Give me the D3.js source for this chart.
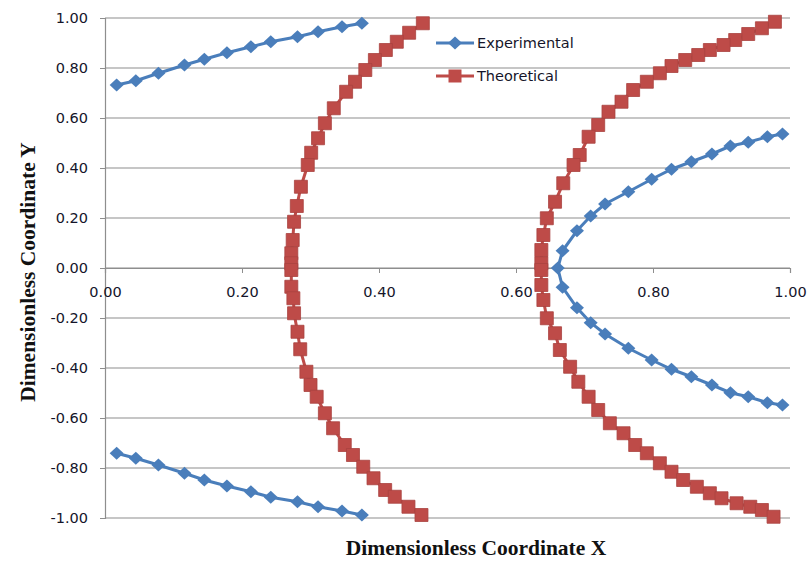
<!DOCTYPE html>
<html>
<head>
<meta charset="utf-8">
<script src="https://cdn.jsdelivr.net/npm/d3@7"></script>
<style>
  body { margin: 0; background: #fff; }
  .tick text { font-family: "DejaVu Sans", sans-serif; font-size: 14.5px; fill: #15152a; }
  .axis-title { font-family: "Liberation Serif", serif; font-weight: bold; font-size: 21.5px; fill: #111; }
  .legend text { font-family: "DejaVu Sans", sans-serif; font-size: 14.5px; fill: #15152a; }
</style>
</head>
<body>
<div id="chart"></div>
<script>
// Experimental data (three separate branches)
const expUpperX = [0.017, 0.045, 0.078, 0.116, 0.145, 0.178, 0.213, 0.242, 0.281, 0.311, 0.346, 0.375];
const expUpperY = [0.732, 0.749, 0.779, 0.812, 0.835, 0.861, 0.885, 0.905, 0.925, 0.945, 0.965, 0.979];
const expLowerX = [0.017, 0.045, 0.078, 0.116, 0.145, 0.178, 0.213, 0.242, 0.281, 0.311, 0.346, 0.375];
const expLowerY = [-0.741, -0.761, -0.788, -0.821, -0.848, -0.872, -0.895, -0.917, -0.935, -0.955, -0.972, -0.988];
const expRightX = [0.989, 0.967, 0.939, 0.913, 0.886, 0.856, 0.827, 0.798, 0.764, 0.730, 0.709, 0.689, 0.668,
  0.661, 0.668, 0.689, 0.709, 0.730, 0.764, 0.798, 0.827, 0.856, 0.886, 0.913, 0.939, 0.967, 0.989];
const expRightY = [-0.548, -0.539, -0.515, -0.499, -0.468, -0.435, -0.405, -0.368, -0.321, -0.264, -0.219, -0.159, -0.077,
  0.000, 0.069, 0.149, 0.208, 0.256, 0.305, 0.355, 0.395, 0.425, 0.456, 0.488, 0.503, 0.525, 0.536];

// Theoretical data (two branches)
const thLeftX = [0.464, 0.444, 0.426, 0.410, 0.394, 0.380, 0.365, 0.352, 0.334, 0.321, 0.311, 0.301, 0.296, 0.286,
  0.280, 0.276, 0.274, 0.272, 0.272, 0.272, 0.272, 0.275, 0.276, 0.281, 0.285, 0.294, 0.300, 0.309, 0.321,
  0.333, 0.350, 0.362, 0.377, 0.392, 0.409, 0.423, 0.443, 0.462];
const thLeftY = [0.979, 0.941, 0.905, 0.872, 0.832, 0.792, 0.745, 0.705, 0.639, 0.579, 0.519, 0.461, 0.412, 0.325,
  0.248, 0.185, 0.112, 0.059, 0.019, -0.008, -0.075, -0.121, -0.181, -0.255, -0.325, -0.415, -0.468, -0.515, -0.581,
  -0.641, -0.708, -0.748, -0.795, -0.841, -0.888, -0.915, -0.955, -0.988];
const thRightX = [0.978, 0.959, 0.939, 0.920, 0.903, 0.883, 0.866, 0.847, 0.827, 0.810, 0.791, 0.771, 0.754, 0.735,
  0.720, 0.706, 0.693, 0.684, 0.669, 0.657, 0.645, 0.640, 0.637, 0.637,
  0.637, 0.637, 0.640, 0.645, 0.657, 0.664, 0.679, 0.691, 0.706, 0.720, 0.737, 0.757, 0.774, 0.791, 0.810, 0.827,
  0.844, 0.864, 0.883, 0.900, 0.922, 0.942, 0.959, 0.976];
const thRightY = [0.985, 0.959, 0.936, 0.912, 0.892, 0.872, 0.852, 0.832, 0.808, 0.779, 0.745, 0.712, 0.665, 0.625,
  0.572, 0.525, 0.452, 0.412, 0.339, 0.265, 0.199, 0.132, 0.072, 0.019,
  -0.008, -0.068, -0.128, -0.201, -0.261, -0.328, -0.395, -0.455, -0.515, -0.568, -0.621, -0.661, -0.708, -0.741, -0.781, -0.815,
  -0.848, -0.875, -0.901, -0.921, -0.941, -0.955, -0.968, -0.995];

const seriesNames = ['Experimental', 'Theoretical'];
const yTicks = [-1, -0.8, -0.6, -0.4, -0.2, 0, 0.2, 0.4, 0.6, 0.8, 1];
const xTicks = [0, 0.2, 0.4, 0.6, 0.8, 1];

const zip = (xs, ys) => xs.map((x, i) => ({ x: x, y: ys[i] }));

const expSegments = [zip(expUpperX, expUpperY), zip(expLowerX, expLowerY), zip(expRightX, expRightY)];
const thSegments = [zip(thLeftX, thLeftY), zip(thRightX, thRightY)];

const width = 807;
const height = 561;
const blue = '#4a7ebb';
const red = '#be4b48';
const gridColor = '#8e8e8e';

const svg = d3.select('#chart').append('svg')
  .attr('width', width)
  .attr('height', height);

const xScale = d3.scaleLinear().domain([0, 1]).range([105, 790]);
const yScale = d3.scaleLinear().domain([-1, 1]).range([518, 18]);

// horizontal gridlines
svg.append('g')
  .selectAll('line')
  .data(yTicks)
  .enter()
  .append('line')
  .attr('x1', xScale(0))
  .attr('x2', xScale(1))
  .attr('y1', d => yScale(d))
  .attr('y2', d => yScale(d))
  .attr('stroke', gridColor)
  .attr('stroke-width', 1.2);

// y axis on the left
const yAxis = d3.axisLeft(yScale)
  .tickValues(yTicks)
  .tickFormat(d3.format('.2f'))
  .tickSize(5)
  .tickPadding(12);

const yAxisGroup = svg.append('g')
  .attr('transform', `translate(${xScale(0)},0)`)
  .call(yAxis);
yAxisGroup.select('.domain').attr('stroke', gridColor).attr('stroke-width', 1.2);
yAxisGroup.selectAll('.tick line').attr('stroke', gridColor);
yAxisGroup.selectAll('.tick text').text(d => d3.format('.2f')(d).replace('−', '-'));

// x axis crossing at y = 0
const xAxis = d3.axisBottom(xScale)
  .tickValues(xTicks)
  .tickFormat(d3.format('.2f'))
  .tickSize(5)
  .tickPadding(14);

const xAxisGroup = svg.append('g')
  .attr('transform', `translate(0,${yScale(0)})`)
  .call(xAxis);
xAxisGroup.select('.domain').attr('stroke', gridColor).attr('stroke-width', 1.2);
xAxisGroup.selectAll('.tick line').attr('stroke', gridColor);

const line = d3.line().x(d => xScale(d.x)).y(d => yScale(d.y));

const diamond = 'M0,-6.5L7,0L0,6.5L-7,0Z';
const square = 'M-6.5,-6.5H6.5V6.5H-6.5Z';

// theoretical series
const thGroup = svg.append('g');
thGroup.selectAll('path.line')
  .data(thSegments)
  .enter()
  .append('path')
  .attr('class', 'line')
  .attr('d', line)
  .attr('fill', 'none')
  .attr('stroke', red)
  .attr('stroke-width', 3);
thGroup.selectAll('path.marker')
  .data(thSegments.flat())
  .enter()
  .append('path')
  .attr('class', 'marker')
  .attr('d', square)
  .attr('transform', d => `translate(${xScale(d.x)},${yScale(d.y)})`)
  .attr('fill', red)
  .attr('stroke', '#a94240')
  .attr('stroke-width', 0.8);

// experimental series
const expGroup = svg.append('g');
expGroup.selectAll('path.line')
  .data(expSegments)
  .enter()
  .append('path')
  .attr('class', 'line')
  .attr('d', line)
  .attr('fill', 'none')
  .attr('stroke', blue)
  .attr('stroke-width', 3);
expGroup.selectAll('path.marker')
  .data(expSegments.flat())
  .enter()
  .append('path')
  .attr('class', 'marker')
  .attr('d', diamond)
  .attr('transform', d => `translate(${xScale(d.x)},${yScale(d.y)})`)
  .attr('fill', blue);

// legend
const legend = svg.append('g').attr('class', 'legend');
const legendItems = legend.selectAll('g')
  .data(seriesNames)
  .enter()
  .append('g')
  .attr('transform', (d, i) => `translate(436,${43 + i * 33})`);
legendItems.append('line')
  .attr('x1', 0).attr('x2', 38)
  .attr('stroke', (d, i) => (i === 0 ? blue : red))
  .attr('stroke-width', 3);
legendItems.append('path')
  .attr('d', (d, i) => (i === 0 ? diamond : square))
  .attr('transform', 'translate(19,0)')
  .attr('fill', (d, i) => (i === 0 ? blue : red));
legendItems.append('text')
  .attr('x', 41)
  .attr('dy', '0.35em')
  .text(d => d);

// axis titles
svg.append('text')
  .attr('class', 'axis-title')
  .attr('x', 476)
  .attr('y', 555)
  .attr('text-anchor', 'middle')
  .text('Dimensionless Coordinate X');

svg.append('text')
  .attr('class', 'axis-title')
  .attr('transform', 'translate(35,272) rotate(-90)')
  .attr('text-anchor', 'middle')
  .text('Dimensionless Coordinate Y');
</script>
</body>
</html>
